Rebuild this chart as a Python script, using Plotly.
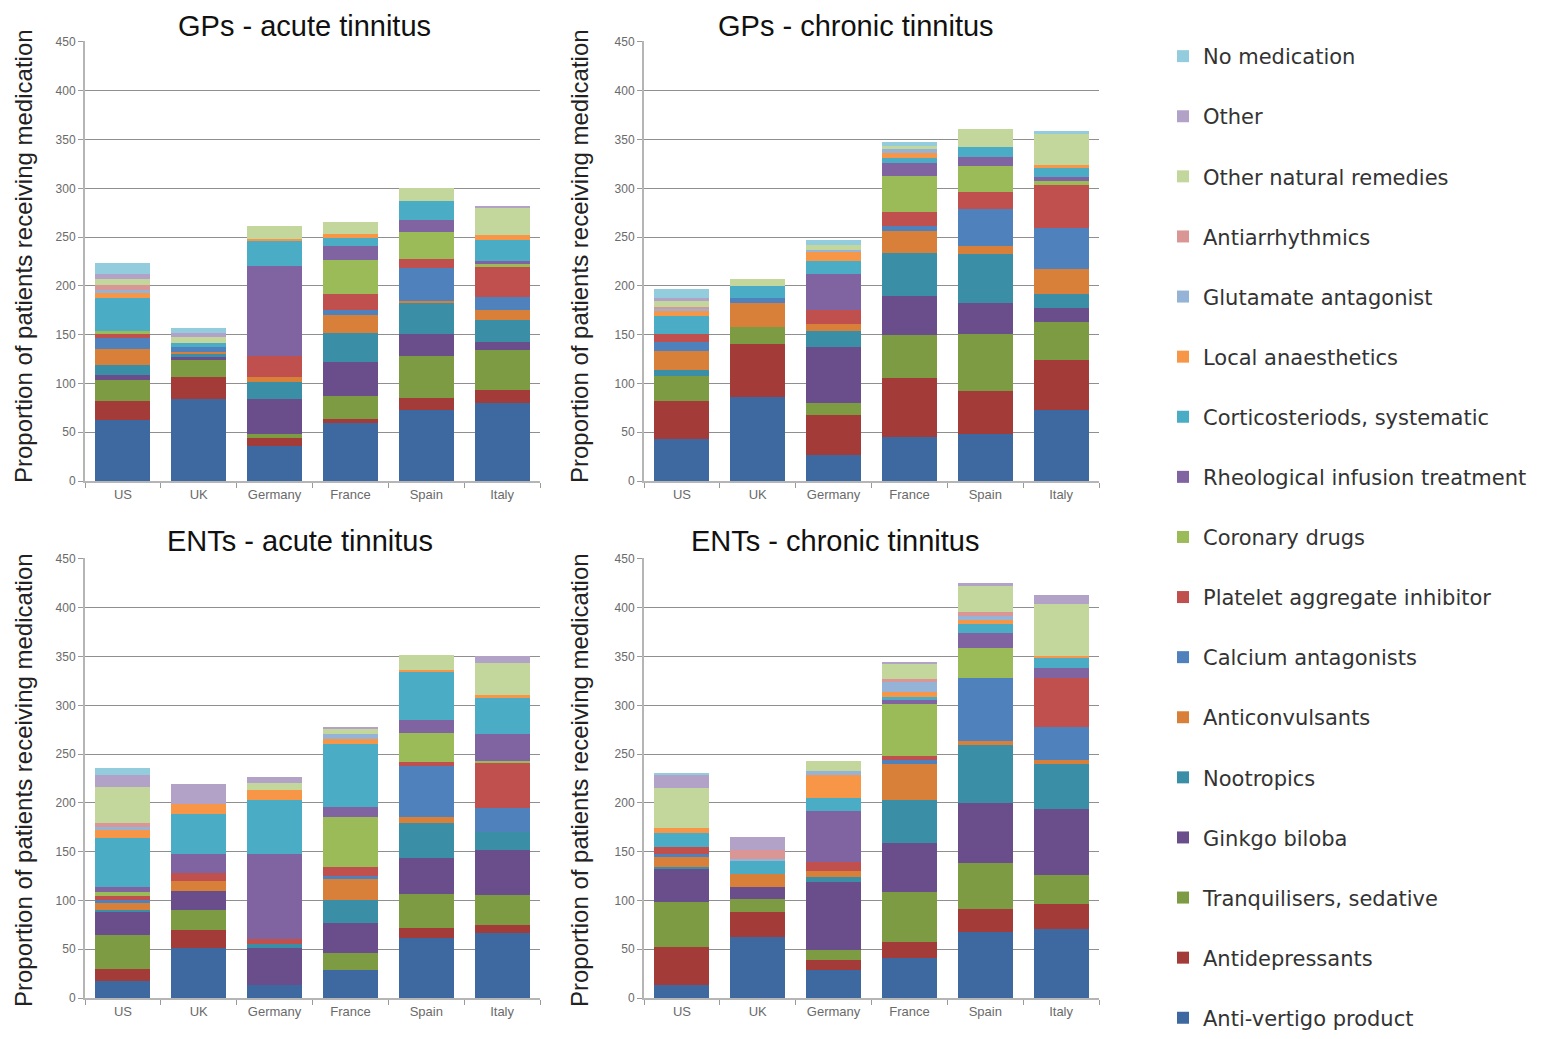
import plotly.graph_objects as go

countries = ["US", "UK", "Germany", "France", "Spain", "Italy"]

# Series names, bottom of stack to top
medications = [
    "Anti-vertigo product", "Antidepressants", "Tranquilisers, sedative", "Ginkgo biloba",
    "Nootropics", "Anticonvulsants", "Calcium antagonists", "Platelet aggregate inhibitor",
    "Coronary drugs", "Rheological infusion treatment", "Corticosteriods, systematic",
    "Local anaesthetics", "Glutamate antagonist", "Antiarrhythmics", "Other natural remedies",
    "Other", "No medication",
]

colors = [
    "#3E69A0", "#A33B39", "#7C9B43", "#6A4E8C", "#3A8FA7", "#D8803A", "#4F81BD", "#C0504D",
    "#9BBB59", "#8064A2", "#4BACC6", "#F79646", "#95B3D7", "#D99694", "#C3D69B", "#B3A2C7",
    "#93CDDD",
]

# ---------------- GPs - acute tinnitus ----------------
gpa_anti_vertigo = [63, 84, 36, 59, 73, 80]
gpa_antidepressants = [19, 23, 8.5, 5, 12, 13]
gpa_tranquilisers = [22, 17.5, 3.5, 23, 43, 41]
gpa_ginkgo = [4.5, 3.5, 36, 35, 23, 8.5]
gpa_nootropics = [10, 2, 17, 29.5, 32, 23]
gpa_anticonvulsants = [16.5, 2.5, 6, 19, 1, 10]
gpa_calcium = [11.5, 5, 0, 4.5, 34.5, 13]
gpa_platelet = [4.5, 0, 21, 17, 9.5, 30.5]
gpa_coronary = [3, 0, 0, 35, 27, 3.5]
gpa_rheological = [0, 0, 92, 13.5, 13, 2.5]
gpa_corticosteroids = [34, 3.5, 26.5, 8.5, 19, 22.5]
gpa_local_anaesthetics = [5, 0, 1.5, 4, 0, 4.5]
gpa_glutamate = [2.5, 0, 0, 0, 0, 0]
gpa_antiarrhythmics = [5, 0, 0, 0, 0, 0]
gpa_natural = [7, 7, 13, 12, 13.5, 28]
gpa_other = [5, 4, 0, 0, 0, 1]
gpa_none = [10.5, 4.5, 0, 0, 0, 0]

# ---------------- GPs - chronic tinnitus ----------------
gpc_anti_vertigo = [43.5, 86.5, 26.5, 45, 48.5, 73]
gpc_antidepressants = [38, 54, 41, 61, 43.5, 51]
gpc_tranquilisers = [26.5, 17.5, 12.5, 44, 59, 39]
gpc_ginkgo = [0, 0, 57, 40, 31.5, 14.5]
gpc_nootropics = [6, 0, 16.5, 44, 50.5, 14.5]
gpc_anticonvulsants = [19.5, 24, 7, 22, 7.5, 25]
gpc_calcium = [8.5, 6, 0, 5.5, 38, 42]
gpc_platelet = [8.5, 0, 15, 14.5, 18, 44]
gpc_coronary = [0, 0, 0, 36.5, 26, 4]
gpc_rheological = [0, 0, 36.5, 13, 9.5, 5]
gpc_corticosteroids = [18.5, 12, 13.5, 6, 10, 9]
gpc_local_anaesthetics = [6, 0, 9, 5, 0, 2.5]
gpc_glutamate = [1.5, 0, 2.5, 3.5, 0, 0]
gpc_antiarrhythmics = [1.5, 0, 0, 0, 0, 0]
gpc_natural = [7, 7, 5, 3.5, 19, 32.5]
gpc_other = [2.5, 0, 0, 0, 0, 0]
gpc_none = [9, 0, 5, 4, 0, 2.5]

# ---------------- ENTs - acute tinnitus ----------------
enta_anti_vertigo = [17, 51, 13.5, 29, 61, 67]
enta_antidepressants = [12.5, 18.5, 0, 0, 11, 8]
enta_tranquilisers = [35, 20.5, 0, 17.5, 35, 30.5]
enta_ginkgo = [24, 19.5, 37.5, 30.5, 36.5, 46]
enta_nootropics = [1.5, 0, 4.5, 23, 35.5, 18.5]
enta_anticonvulsants = [7, 10, 0, 22, 7, 0]
enta_calcium = [3.5, 0, 0, 3.5, 52, 25]
enta_platelet = [4, 9, 5, 8.5, 3.5, 46.5]
enta_coronary = [4.5, 0, 0, 51.5, 30.5, 1.5]
enta_rheological = [5, 19.5, 87, 10.5, 12.5, 28]
enta_corticosteroids = [49.5, 40.5, 55, 64.5, 50.5, 37.5]
enta_local_anaesthetics = [9, 10, 11, 4.5, 1.5, 2]
enta_glutamate = [3, 0, 0, 6, 0, 0]
enta_antiarrhythmics = [3.5, 0, 0, 0, 0, 0]
enta_natural = [37.5, 0, 7, 4.5, 15.5, 33]
enta_other = [12, 20.5, 6, 2.5, 0, 7]
enta_none = [7.5, 0, 0, 0, 0, 0]

# ---------------- ENTs - chronic tinnitus ----------------
entc_anti_vertigo = [13.5, 63, 29, 41, 68, 70.5]
entc_antidepressants = [39, 25.5, 10, 16, 23, 26]
entc_tranquilisers = [46, 12.5, 10, 52, 47.5, 29.5]
entc_ginkgo = [34.5, 13, 70, 50, 61.5, 68]
entc_nootropics = [1.5, 0, 5, 43.5, 59, 46]
entc_anticonvulsants = [10, 13, 6, 37.5, 4.5, 4]
entc_calcium = [3, 0, 0, 3.5, 65, 33.5]
entc_platelet = [7.5, 0, 9, 4.5, 0, 51]
entc_coronary = [0, 0, 0, 53.5, 30, 0]
entc_rheological = [0, 0, 52.5, 3.5, 16, 9.5]
entc_corticosteroids = [14.5, 13.5, 13.5, 4, 8.5, 10]
entc_local_anaesthetics = [4.5, 0, 24, 4.5, 4, 2.5]
entc_glutamate = [0, 1.5, 3.5, 10, 5, 0]
entc_antiarrhythmics = [0, 10, 0, 3.5, 4, 0]
entc_natural = [41, 0, 10, 15.5, 26, 53]
entc_other = [13.5, 13, 0, 1.5, 3.5, 10]
entc_none = [2.5, 0, 0, 0, 0, 0]

y_ticks = [0, 50, 100, 150, 200, 250, 300, 350, 400, 450]

panels = [
    ("GPs - acute tinnitus", "x", "y", [
        gpa_anti_vertigo, gpa_antidepressants, gpa_tranquilisers, gpa_ginkgo, gpa_nootropics,
        gpa_anticonvulsants, gpa_calcium, gpa_platelet, gpa_coronary, gpa_rheological,
        gpa_corticosteroids, gpa_local_anaesthetics, gpa_glutamate, gpa_antiarrhythmics,
        gpa_natural, gpa_other, gpa_none]),
    ("GPs - chronic tinnitus", "x2", "y2", [
        gpc_anti_vertigo, gpc_antidepressants, gpc_tranquilisers, gpc_ginkgo, gpc_nootropics,
        gpc_anticonvulsants, gpc_calcium, gpc_platelet, gpc_coronary, gpc_rheological,
        gpc_corticosteroids, gpc_local_anaesthetics, gpc_glutamate, gpc_antiarrhythmics,
        gpc_natural, gpc_other, gpc_none]),
    ("ENTs - acute tinnitus", "x3", "y3", [
        enta_anti_vertigo, enta_antidepressants, enta_tranquilisers, enta_ginkgo, enta_nootropics,
        enta_anticonvulsants, enta_calcium, enta_platelet, enta_coronary, enta_rheological,
        enta_corticosteroids, enta_local_anaesthetics, enta_glutamate, enta_antiarrhythmics,
        enta_natural, enta_other, enta_none]),
    ("ENTs - chronic tinnitus", "x4", "y4", [
        entc_anti_vertigo, entc_antidepressants, entc_tranquilisers, entc_ginkgo, entc_nootropics,
        entc_anticonvulsants, entc_calcium, entc_platelet, entc_coronary, entc_rheological,
        entc_corticosteroids, entc_local_anaesthetics, entc_glutamate, entc_antiarrhythmics,
        entc_natural, entc_other, entc_none]),
]

# the page body adds an 8 px margin; size the figure so it fits the window
OFF = 8
W, H = 1549 - OFF, 1039 - OFF
FONT = "Liberation Sans, Arial, sans-serif"
LEG_FONT = "DejaVu Sans, Verdana, sans-serif"

fig = go.Figure()
n_med = len(medications)
for p_idx, (title, xa, ya, series) in enumerate(panels):
    for m_idx, (name, vals) in enumerate(zip(medications, series)):
        fig.add_trace(go.Bar(
            x=countries, y=vals, name=name, xaxis=xa, yaxis=ya,
            marker=dict(color=colors[m_idx], line=dict(width=0)),
            legendgroup=name, showlegend=(p_idx == 0),
            legendrank=1000 + (n_med - m_idx),
        ))

def px_x(v):
    return (v - OFF) / W

def px_y(v):
    return 1 - (v - OFF) / H

x_domains = [(85, 540), (644, 1099)]
y_domains = [(41, 481), (558, 998)]

axis_common_x = dict(
    type="category", tickson="boundaries", ticks="outside", ticklen=5, tickcolor="#9a9a9a",
    showline=True, linecolor="#b5b5b5", linewidth=2, showgrid=False,
    tickfont=dict(family=FONT, size=13, color="#6a6a6a"), fixedrange=True,
)
axis_common_y = dict(
    range=[0, 451], tickvals=y_ticks, ticks="outside", ticklen=5, tickcolor="#9a9a9a",
    showline=True, linecolor="#b5b5b5", linewidth=2, showgrid=True,
    gridcolor="#8f8f8f", gridwidth=1, zeroline=False,
    tickfont=dict(family=FONT, size=12, color="#6a6a6a"), fixedrange=True,
)

layout_axes = {}
for i, (title, xa, ya, _) in enumerate(panels):
    col = i % 2
    row = i // 2
    xd = x_domains[col]
    yd = y_domains[row]
    xkey = "xaxis" if xa == "x" else "xaxis" + xa[1:]
    ykey = "yaxis" if ya == "y" else "yaxis" + ya[1:]
    layout_axes[xkey] = dict(axis_common_x, domain=[px_x(xd[0]), px_x(xd[1])], anchor=ya)
    layout_axes[ykey] = dict(axis_common_y, domain=[px_y(yd[1]), px_y(yd[0])], anchor=xa)

annotations = []
title_pos = [(304, 26), (856, 26), (300, 541), (835, 541)]
for (title, _, _, _), (tx, ty) in zip(panels, title_pos):
    annotations.append(dict(
        text=title, x=px_x(tx), y=px_y(ty), xref="paper", yref="paper",
        xanchor="center", yanchor="middle", showarrow=False,
        font=dict(family=FONT, size=29, color="#111111"),
    ))
ytitle = "Proportion of patients receiving medication"
for (ax, ay) in [(23, 256), (579, 256), (23, 780), (579, 780)]:
    annotations.append(dict(
        text=ytitle, x=px_x(ax), y=px_y(ay), xref="paper", yref="paper",
        xanchor="center", yanchor="middle", showarrow=False, textangle=-90,
        font=dict(family=FONT, size=24, color="#222222"),
    ))

fig.update_layout(
    width=W, height=H,
    margin=dict(l=0, r=0, t=0, b=0, autoexpand=False),
    paper_bgcolor="white", plot_bgcolor="white",
    barmode="stack", bargap=0.275,
    annotations=annotations,
    legend=dict(
        x=px_x(1163), y=px_y(36), xanchor="left", yanchor="top",
        traceorder="grouped", tracegroupgap=29.8,
        font=dict(family=LEG_FONT, size=21, color="#333333"),
        bgcolor="rgba(0,0,0,0)",
    ),
    **layout_axes,
)

fig.write_html("out.html")
